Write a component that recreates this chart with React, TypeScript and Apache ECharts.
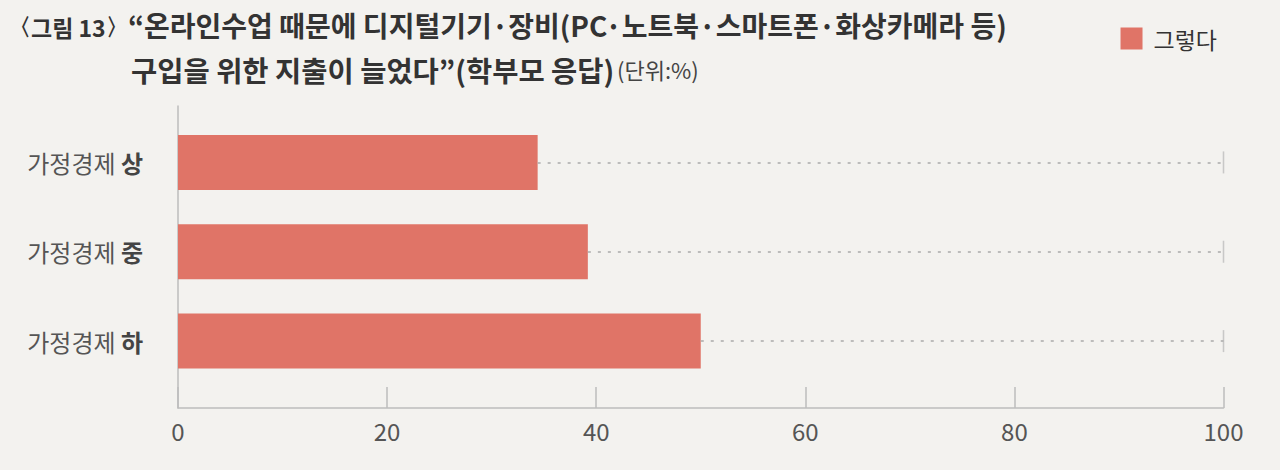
import React, { useEffect, useRef } from "react";
import * as echarts from "echarts";

const categories = ["가정경제 상", "가정경제 중", "가정경제 하"];
const categoryPrefix = ["가정경제", "가정경제", "가정경제"];
const categoryLevel = ["상", "중", "하"];
const seriesName = "그렇다";
const values = [34.4, 39.2, 50.0];
const axisMax = 100;
const xTicks = [0, 20, 40, 60, 80, 100];

const figureLabel = "그림 13";
const titleLine1 = "“온라인수업 때문에 디지털기기·장비(PC·노트북·스마트폰·화상카메라 등)";
const titleLine2 = "구입을 위한 지출이 늘었다”(학부모 응답)";
const unitText = "(단위:%)";

const FONT = "'Noto Sans CJK KR', 'Noto Sans', sans-serif";
const BAR = "#e07467";
const AXIS = "#bdbdbd";

export default function App() {
  const ref = useRef<HTMLDivElement>(null);
  useEffect(() => {
    document.body.style.margin = "0";
    if (!ref.current) return;
    const chart = echarts.init(ref.current, undefined, { renderer: "svg" });
    const left = 178;
    const plotW = 1045.5;
    chart.setOption({
      animation: false,
      backgroundColor: "#f3f2ef",
      textStyle: { fontFamily: FONT },
      legend: {
        data: [seriesName],
        right: 58,
        top: 22,
        icon: "rect",
        itemWidth: 22,
        itemHeight: 22,
        textStyle: { fontSize: 23, color: "#333", fontFamily: FONT, padding: [0, 0, 0, 6] },
      },
      graphic: [
        {
          type: "text",
          left: 8,
          top: 15,
          style: {
            text: `{p|〈}{t|${figureLabel}}{p|〉}`,
            fontFamily: FONT,
            rich: {
              p: { fontSize: 23, fontWeight: "bold", fill: "#333", fontFamily: "'DejaVu Sans', sans-serif" },
              t: { fontSize: 23, fontWeight: "bold", fill: "#333", fontFamily: FONT },
            },
          },
        },
        {
          type: "text",
          left: 128,
          top: 11,
          style: { text: titleLine1, fontSize: 28, fontWeight: "bold", fill: "#333", fontFamily: FONT },
        },
        {
          type: "text",
          left: 131,
          top: 55,
          style: {
            text: `{b|${titleLine2}} {s|${unitText}}`,
            fontFamily: FONT,
            rich: {
              b: { fontSize: 28.5, fontWeight: "bold", fill: "#333", fontFamily: FONT },
              s: { fontSize: 22, fill: "#444", fontFamily: FONT },
            },
          },
        },
      ],
      grid: [
        { left, top: 106, width: plotW, height: 302 },
        { left, top: 117.75, width: plotW, height: 268 },
      ],
      xAxis: [
        {
          gridIndex: 0,
          type: "value",
          min: 0,
          max: axisMax,
          interval: 20,
          axisLine: { show: true, lineStyle: { color: AXIS, width: 1.5 } },
          axisTick: { show: true, inside: true, length: 21, lineStyle: { color: AXIS, width: 1.5 } },
          axisLabel: {
            fontSize: 24,
            color: "#555",
            margin: 10,
            fontFamily: FONT,
            formatter: (v: number) => (xTicks.includes(v) ? String(v) : ""),
          },
          splitLine: { show: false },
        },
        {
          gridIndex: 1,
          type: "value",
          min: 0,
          max: axisMax,
          show: false,
        },
      ],
      yAxis: [
        {
          gridIndex: 0,
          type: "value",
          min: 0,
          max: 1,
          axisLine: { show: true, lineStyle: { color: AXIS, width: 1.5 } },
          axisTick: { show: false },
          axisLabel: { show: false },
          splitLine: { show: false },
        },
        {
          gridIndex: 1,
          type: "category",
          inverse: true,
          data: categories,
          axisLine: { show: false },
          axisTick: { show: false },
          axisLabel: {
            margin: 35,
            formatter: (_v: string, i: number) => `{n|${categoryPrefix[i]} }{b|${categoryLevel[i]}}`,
            rich: {
              n: { fontSize: 24, color: "#555", fontFamily: FONT },
              b: { fontSize: 24, color: "#444", fontWeight: "bold", fontFamily: FONT },
            },
          },
        },
      ],
      series: [
        {
          name: seriesName,
          type: "bar",
          xAxisIndex: 1,
          yAxisIndex: 1,
          data: values,
          barWidth: 55,
          itemStyle: { color: BAR },
          z: 3,
          markLine: {
            silent: true,
            symbol: ["none", "none"],
            label: { show: false },
            lineStyle: { color: "#aaa", width: 1.5, type: [3, 7] },
            data: categories.map((c, i) => [
              { coord: [values[i], c] },
              { coord: [axisMax, c] },
            ]),
          },
        },
        {
          name: "end",
          type: "scatter",
          xAxisIndex: 1,
          yAxisIndex: 1,
          symbol: "rect",
          symbolSize: [1.5, 22],
          itemStyle: { color: AXIS },
          silent: true,
          data: categories.map((c) => [axisMax, c]),
        },
      ],
    });
    return () => chart.dispose();
  }, []);
  return <div ref={ref} style={{ width: 1280, height: 470 }} />;
}
